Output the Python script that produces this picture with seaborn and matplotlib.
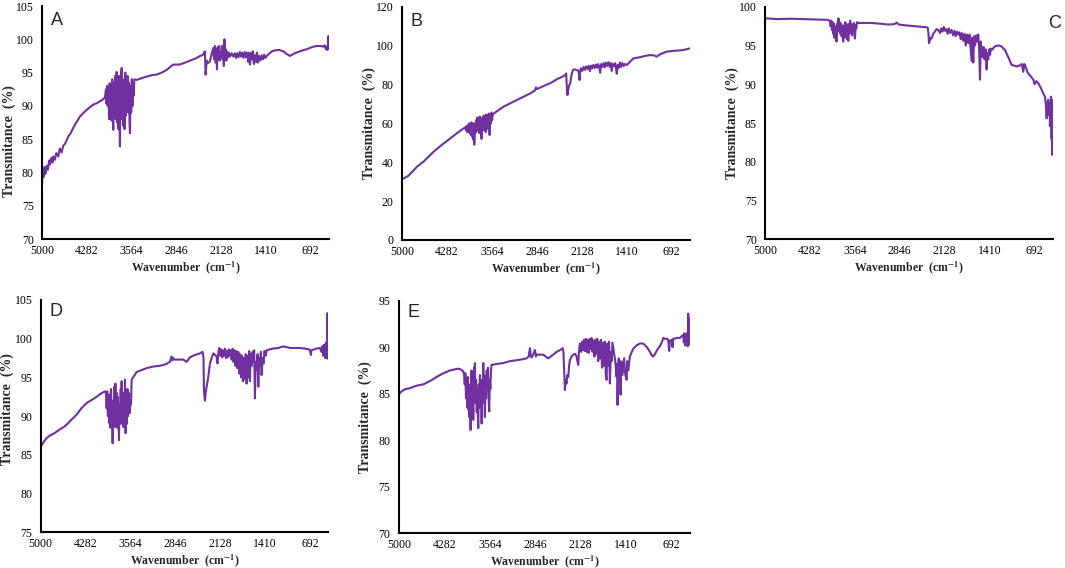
import numpy as np
import pandas as pd
import matplotlib
matplotlib.use("Agg")
import matplotlib.pyplot as plt
import seaborn as sns

# FTIR spectra (wavenumber, transmitance %)
wn_a = [5000, 4989, 4975, 4960, 4945, 4925, 4905, 4885, 4872, 4850, 4830, 4818, 4795, 4770, 4738, 4715, 4685, 4660,
        4631, 4605, 4578, 4540, 4498, 4450, 4391, 4340, 4284, 4230, 4177, 4120, 4070, 4030, 3990,
        3974, 3965, 3955, 3945, 3935, 3925, 3915, 3905, 3895, 3885, 3875, 3865, 3857, 3848, 3838, 3828, 3818, 3810,
        3803, 3795, 3785, 3775, 3765, 3757, 3750, 3742, 3735, 3728, 3722, 3715, 3705, 3695, 3685, 3675, 3665, 3655,
        3645, 3635, 3625, 3615, 3605, 3597, 3589, 3580, 3570, 3560, 3550, 3540, 3530, 3520,
        3483, 3420, 3322, 3240, 3162, 3080, 3002, 2950, 2895, 2800, 2735, 2650, 2574, 2520, 2467, 2430, 2403, 2390,
        2385, 2377, 2370, 2360, 2350, 2330, 2307, 2280, 2254,
        2240, 2228, 2215, 2205, 2195, 2185, 2172, 2160, 2150, 2138, 2125, 2115, 2105, 2095, 2085, 2075, 2065, 2055,
        2045, 2035, 2020, 2005, 1987,
        1960, 1933, 1910, 1890, 1870, 1850, 1830, 1810, 1790, 1770, 1750, 1730, 1710, 1695, 1680, 1666, 1650, 1635,
        1620, 1605, 1590, 1570, 1555, 1540, 1520, 1500, 1480, 1460, 1440, 1420, 1399,
        1340, 1292, 1200, 1132, 1080, 1025, 950, 864, 800, 758, 680, 597, 540, 490, 470, 450, 437, 425, 418, 412,
        408, 404, 400]
t_a = [78.2, 80.2, 79.3, 80.8, 79.8, 81.0, 80.4, 81.8, 81.2, 82.2, 81.5, 82.4, 81.9, 82.9, 82.4, 83.6, 83.0, 84.0,
       84.3, 84.8, 85.4, 85.9, 86.7, 87.5, 88.4, 88.9, 89.4, 89.8, 90.2, 90.4, 90.7, 90.9, 91.3,
       92.5, 90.3, 93.0, 90.0, 92.0, 88.0, 93.4, 89.5, 92.5, 87.8, 94.0, 88.5, 86.4, 93.5, 89.0, 94.5, 88.0, 92.0,
       95.1, 87.5, 93.0, 86.5, 94.5, 87.5, 83.9, 93.0, 89.0, 95.0, 95.7, 88.0, 94.0, 87.0, 93.5, 86.5, 95.0, 88.5,
       93.0, 90.0, 94.5, 89.0, 93.5, 87.5, 85.9, 93.0, 89.0, 94.0, 90.0, 93.5, 91.5, 94.0,
       93.9, 94.1, 94.4, 94.6, 94.7, 95.0, 95.4, 95.8, 96.2, 96.2, 96.4, 96.7, 97.0, 97.2, 97.5, 97.6, 97.9, 98.2,
       97.2, 94.7, 95.5, 96.8, 96.4, 96.5, 96.7, 97.8, 98.7,
       97.0, 99.0, 96.5, 98.5, 95.5, 98.8, 97.0, 99.0, 96.8, 98.0, 97.2, 99.0, 97.0, 98.3, 96.0, 100.0, 97.2, 98.5,
       96.8, 98.2, 97.3, 98.0, 97.4,
       97.9, 97.4, 97.9, 97.2, 97.9, 97.3, 98.1, 97.4, 98.0, 97.2, 98.1, 97.3, 98.0, 96.6, 98.0, 96.2, 97.9, 97.0,
       98.2, 96.3, 97.6, 96.6, 98.0, 96.5, 97.5, 96.8, 97.6, 97.0, 97.7, 97.2, 97.5,
       98.0, 98.3, 98.4, 98.2, 97.8, 97.5, 97.9, 98.2, 98.4, 98.5, 98.8, 99.0, 99.0, 98.9, 99.1, 98.5, 98.8, 98.4,
       99.2, 98.6, 100.5, 98.8, 99.0]

wn_b = [5000, 4984, 4900, 4761, 4650, 4495, 4380, 4229, 4120, 4016, 3990,
        3980, 3970, 3960, 3950, 3940, 3930, 3920, 3910, 3900, 3890, 3880, 3870, 3860, 3852, 3846, 3838, 3828, 3818,
        3808, 3798, 3788, 3778, 3768, 3758, 3748, 3738, 3730, 3724, 3714, 3704, 3694, 3684, 3674, 3664, 3654, 3644,
        3634, 3624, 3614, 3607, 3601, 3592, 3582, 3572, 3562, 3552, 3538,
        3378, 3165, 2953, 2880, 2860, 2846, 2800, 2700, 2633, 2520, 2421, 2390, 2378, 2370, 2362, 2357, 2345, 2330,
        2314, 2295, 2272, 2240, 2208, 2180, 2170, 2165, 2158, 2144,
        2120, 2100, 2080, 2060, 2040, 2020, 2000, 1985, 1965, 1945, 1925, 1905, 1885, 1865, 1845, 1836, 1820, 1800,
        1780, 1760, 1740, 1720, 1700, 1680, 1660, 1650, 1635, 1615, 1595, 1580, 1570, 1555, 1540, 1520, 1500, 1480,
        1460, 1440, 1410,
        1304, 1200, 1100, 1038, 980, 932, 880, 772, 650, 506, 450, 400]
t_b = [31.0, 31.5, 33.0, 37.7, 40.5, 45.4, 48.5, 52.3, 55.0, 57.4, 58.0,
       56.5, 58.5, 55.5, 59.0, 56.0, 60.0, 55.0, 59.5, 54.0, 60.5, 53.0, 58.0, 51.5, 60.0, 49.0, 58.0, 55.0, 61.5,
       56.0, 63.0, 58.0, 62.0, 55.0, 63.5, 57.0, 60.5, 52.0, 58.5, 63.0, 56.5, 64.0, 58.0, 62.0, 55.5, 64.5, 59.0,
       63.0, 57.0, 65.0, 58.5, 54.0, 62.5, 60.0, 65.5, 61.5, 64.0, 65.0,
       68.6, 72.0, 75.4, 76.8, 78.5, 77.6, 78.3, 79.8, 80.6, 82.8, 84.3, 85.0, 85.7, 80.0, 76.0, 74.6, 77.5, 79.5,
       80.6, 84.5, 87.4, 87.8, 87.4, 87.0, 84.0, 82.3, 85.5, 88.3,
       87.0, 89.0, 87.5, 89.3, 88.0, 89.5, 86.8, 89.7, 88.2, 90.0, 88.5, 90.3, 88.6, 90.5, 88.2, 86.0, 90.5, 89.0,
       91.0, 88.8, 91.3, 89.5, 91.5, 89.0, 91.0, 87.0, 90.5, 89.5, 91.0, 88.0, 85.5, 90.0, 88.5, 91.3, 89.0, 91.0,
       89.5, 90.5, 90.0,
       93.4, 94.0, 94.8, 95.1, 95.0, 94.3, 95.5, 96.9, 97.3, 97.7, 98.2, 98.6]

wn_c = [5000, 4989, 4800, 4600, 4400, 4200, 3987, 3961,
        3950, 3940, 3930, 3920, 3910, 3900, 3890, 3880, 3870, 3860, 3854, 3845, 3835, 3825, 3815, 3805, 3795, 3785,
        3775, 3765, 3755, 3747, 3738, 3728, 3718, 3708, 3698, 3688, 3678, 3668, 3658, 3648, 3638, 3628, 3618, 3608,
        3598, 3588, 3578, 3568, 3561, 3550, 3540, 3530, 3508,
        3400, 3294, 3150, 3028, 2930, 2895, 2860, 2761, 2620, 2495, 2420, 2399, 2385, 2378, 2365, 2350, 2336, 2310,
        2282, 2260, 2228,
        2200, 2180, 2160, 2140, 2122, 2100, 2080, 2060, 2040, 2015, 1990, 1970, 1950, 1930, 1909, 1890, 1870, 1850,
        1830, 1810, 1790, 1770, 1750, 1730, 1710, 1695, 1685, 1669, 1655, 1640, 1620, 1605, 1589, 1575, 1562, 1550,
        1536, 1520, 1505, 1490, 1482, 1470, 1456, 1445, 1430, 1415, 1400, 1390, 1376,
        1322, 1269, 1220, 1162, 1110, 1056, 976, 930, 896, 880, 869, 855, 843, 800, 750, 709, 690, 660, 629, 600,
        576, 550, 523, 510, 496, 485, 470, 460, 450, 443, 435, 427, 422, 416, 412, 408, 406, 403, 400]
t_c = [98.4, 98.5, 98.4, 98.45, 98.4, 98.35, 98.3, 98.1,
       97.5, 98.2, 97.0, 98.0, 96.5, 97.8, 96.0, 97.5, 96.5, 95.6, 95.5, 97.8, 96.8, 98.5, 97.0, 98.0, 96.5, 97.8,
       96.2, 97.6, 95.7, 95.5, 97.5, 96.0, 98.0, 96.5, 97.8, 95.8, 97.3, 95.6, 97.8, 96.5, 98.2, 96.8, 97.8, 96.3,
       97.6, 96.8, 97.9, 96.2, 95.9, 97.6, 97.2, 98.0, 97.9,
       97.9, 97.9, 97.8, 97.7, 97.75, 97.95, 97.7, 97.6, 97.5, 97.4, 97.35, 97.3, 96.5, 95.3, 95.6, 96.0, 95.9, 96.5,
       96.8, 97.1, 97.0,
       96.6, 97.2, 96.8, 97.4, 96.9, 97.1, 96.5, 97.2, 96.6, 97.0, 96.3, 96.9, 96.2, 96.8, 96.4, 96.7, 95.8, 96.6,
       95.6, 96.5, 95.0, 96.4, 95.3, 96.4, 94.5, 93.0, 96.0, 92.8, 96.2, 95.0, 96.3, 95.5, 96.4, 94.5, 90.6, 95.5,
       94.4, 93.5, 94.8, 93.2, 93.4, 94.5, 91.9, 94.0, 93.2, 94.5, 93.8, 94.6, 94.4,
       94.9, 95.0, 94.9, 94.4, 93.5, 92.5, 92.3, 92.4, 92.6, 92.0, 91.6, 92.6, 92.5, 91.5, 91.0, 90.6, 90.0, 90.4,
       90.1, 89.7, 89.3, 88.8, 88.4, 87.5, 85.6, 87.5, 88.0, 86.0, 87.5, 84.6, 87.0, 88.4, 85.0, 82.9, 86.5, 88.0,
       80.9, 84.0, 82.0]

wn_d = [5000, 4989, 4940, 4900, 4851, 4780, 4691, 4630, 4584, 4500, 4424, 4350, 4264, 4180, 4105, 4040, 3971,
        3955, 3945, 3935, 3925, 3915, 3902, 3895, 3885, 3875, 3865, 3857, 3849, 3840, 3830, 3820, 3811, 3805, 3795,
        3785, 3775, 3765, 3757, 3747, 3740, 3730, 3720, 3712, 3705, 3695, 3685, 3678, 3670, 3660, 3651, 3645, 3641,
        3632, 3622, 3612, 3602, 3592, 3582, 3572, 3565, 3555, 3545,
        3465, 3400, 3305, 3200, 3092, 3000, 2932, 2905, 2895, 2879, 2860, 2800, 2719, 2665, 2612, 2530, 2452, 2410,
        2395, 2388, 2380, 2372, 2360, 2346, 2320, 2292, 2265, 2239, 2210, 2186, 2178, 2170, 2160, 2143,
        2125, 2110, 2095, 2080, 2065, 2050, 2035, 2020, 2005, 1990, 1975, 1960, 1945, 1930, 1915, 1900, 1885, 1870,
        1855, 1840, 1825, 1810, 1795, 1780, 1765, 1750, 1735, 1720, 1706, 1695, 1680, 1665, 1653, 1640, 1625, 1610,
        1595, 1585, 1573, 1560, 1545, 1530, 1519, 1505, 1490, 1478, 1466, 1450, 1435, 1420, 1400, 1386,
        1300, 1200, 1120, 1060, 1013, 950, 853, 760, 700, 693, 685, 677, 668, 600, 533, 510, 495, 480, 470, 460,
        453, 445, 437, 428, 420, 414, 411, 407, 403, 400]
t_d = [85.9, 86.2, 86.8, 87.2, 87.5, 87.8, 88.3, 88.6, 88.9, 89.6, 90.2, 91.0, 91.7, 92.1, 92.5, 92.9, 93.2,
       93.0, 91.0, 93.2, 90.0, 92.5, 89.1, 92.8, 88.5, 93.5, 90.5, 91.5, 86.5, 92.0, 89.5, 93.8, 88.6, 94.2, 90.0,
       93.0, 88.5, 92.5, 89.5, 86.9, 91.5, 89.0, 93.5, 90.0, 94.5, 89.0, 93.0, 88.6, 92.5, 89.5, 94.7, 89.5, 87.8,
       92.5, 89.0, 93.5, 90.0, 93.0, 90.5, 90.4, 92.0, 91.5, 94.7,
       95.7, 95.9, 96.2, 96.4, 96.5, 96.7, 97.0, 97.7, 97.2, 97.5, 97.3, 97.3, 97.3, 97.0, 97.6, 97.9, 98.1, 98.3,
       97.5, 93.4, 92.5, 92.0, 93.0, 93.8, 95.0, 96.8, 97.5, 98.1, 97.9, 97.7, 97.0, 96.8, 98.0, 98.8,
       97.8, 98.6, 97.6, 98.5, 97.8, 98.7, 97.5, 98.4, 97.6, 98.6, 97.8, 98.5, 97.3, 98.7, 97.0, 98.5, 96.5, 98.4,
       96.2, 98.3, 95.5, 98.0, 95.0, 97.8, 94.5, 97.5, 94.8, 98.0, 94.2, 97.8, 95.0, 98.4, 94.5, 98.0, 96.5, 98.3,
       97.0, 98.5, 92.3, 97.0, 96.0, 98.0, 93.8, 97.5, 96.5, 98.3, 95.3, 97.5, 96.8, 98.4, 97.8, 98.5,
       98.7, 98.8, 99.0, 98.9, 98.8, 98.8, 98.8, 98.7, 98.6, 98.5, 98.2, 97.9, 98.5, 98.7, 98.8, 98.3, 99.0, 97.8,
       99.2, 98.0, 99.0, 97.5, 99.5, 97.5, 99.2, 98.0, 103.3, 98.2, 97.4, 99.0]

wn_e = [5000, 4995, 4950, 4900, 4826, 4750, 4700, 4615, 4500, 4405, 4300, 4194, 4130, 4062, 4020, 3983,
        3970, 3960, 3950, 3940, 3930, 3920, 3912, 3904, 3896, 3888, 3880, 3873, 3867, 3860, 3852, 3845, 3835, 3825,
        3818, 3810, 3805, 3799, 3790, 3780, 3770, 3760, 3752, 3746, 3738, 3730, 3720, 3710, 3700, 3693, 3685, 3675,
        3667, 3660, 3652, 3641, 3632, 3622, 3612, 3602, 3592, 3580, 3572, 3565, 3555, 3545, 3535,
        3450, 3351, 3250, 3140, 3050, 2982, 2950, 2929, 2915, 2903, 2880, 2850, 2835, 2824, 2719, 2680, 2640, 2580,
        2508, 2450, 2413, 2400, 2392, 2385, 2376, 2365, 2350, 2340, 2323, 2310, 2297, 2270, 2244, 2215, 2192, 2178,
        2165, 2155, 2139,
        2120, 2105, 2090, 2075, 2060, 2045, 2030, 2015, 2000, 1985, 1970, 1955, 1940, 1925, 1910, 1895, 1880, 1865,
        1850, 1835, 1820, 1805, 1790, 1775, 1760, 1745, 1730, 1717, 1705, 1690, 1678, 1665, 1650, 1635, 1625, 1612,
        1580, 1559, 1550, 1544, 1535, 1525, 1517, 1505, 1496, 1485, 1470, 1454, 1440, 1425, 1401, 1390, 1375, 1349,
        1300, 1243, 1190, 1138, 1080, 1032, 1000, 980, 950, 910, 874, 840, 822, 790, 760, 743, 735, 727, 718, 690,
        674, 664, 600, 558, 530, 506, 495, 485, 475, 465, 455, 445, 435, 426, 420, 414, 411, 405, 400]
t_e = [84.9, 85.0, 85.3, 85.5, 85.6, 85.8, 85.9, 86.0, 86.4, 86.8, 87.2, 87.5, 87.6, 87.7, 87.6, 87.4,
       87.0, 86.0, 87.2, 84.5, 86.5, 83.5, 86.8, 83.3, 85.5, 82.5, 86.0, 83.5, 81.1, 85.0, 87.5, 84.0, 86.0, 82.2,
       85.5, 87.8, 86.0, 88.3, 84.0, 86.5, 83.0, 85.5, 82.5, 81.3, 86.0, 83.5, 87.0, 84.0, 86.5, 81.8, 86.0, 84.0,
       88.3, 85.0, 87.0, 82.5, 86.5, 84.5, 87.5, 85.5, 87.8, 84.0, 83.1, 86.5, 85.5, 87.5, 88.1,
       88.2, 88.3, 88.5, 88.6, 88.7, 88.8, 89.0, 89.9, 89.0, 88.9, 89.2, 89.7, 89.0, 89.2, 89.2, 89.0, 88.8, 89.1,
       89.5, 89.7, 89.9, 89.5, 88.3, 87.0, 85.4, 86.5, 86.1, 87.0, 86.8, 88.0, 88.6, 89.0, 89.2, 89.3, 89.0, 88.5,
       88.1, 89.5, 90.4,
       89.5, 90.6, 89.7, 90.8, 89.6, 90.9, 89.5, 90.8, 89.4, 90.9, 89.8, 91.0, 89.5, 90.7, 89.0, 90.8, 89.3, 90.9,
       88.5, 90.6, 88.8, 90.8, 87.8, 90.5, 88.0, 90.6, 87.0, 86.5, 90.4, 88.0, 90.6, 86.1, 89.5, 88.5, 90.5, 89.9,
       88.5, 86.8, 88.2, 83.8, 87.5, 88.8, 86.5, 88.0, 84.9, 88.5, 87.0, 87.7, 88.8, 87.2, 86.5, 88.5, 87.5, 89.0,
       89.8, 90.2, 90.4, 90.4, 90.0, 89.5, 89.1, 89.0, 89.3, 89.8, 90.1, 90.6, 91.0, 90.9, 90.9, 90.8, 90.2, 89.6,
       90.6, 90.8, 90.0, 90.9, 91.0, 91.0, 91.2, 91.3, 90.5, 91.5, 90.2, 91.4, 90.3, 91.5, 90.1, 93.6, 90.5, 93.0,
       91.0, 90.3, 91.2]

x_ticks = [5000, 4282, 3564, 2846, 2128, 1410, 692]

# letter, x, y, y-limits, y-step, axes rect, letter spot, y-label height
panels = [
    ("A", wn_a, t_a, (70, 105), 5, [0.0394, 0.5792, 0.2695, 0.4102], (0.03, 0.975), 0.42),
    ("B", wn_b, t_b, (0, 120), 20, [0.3775, 0.5775, 0.2704, 0.4107], (0.03, 0.975), 0.50),
    ("C", wn_c, t_c, (70, 100), 5, [0.7183, 0.5787, 0.2701, 0.4095], (0.985, 0.965), 0.50),
    ("D", wn_d, t_d, (75, 105), 5, [0.0382, 0.0629, 0.2700, 0.4090], (0.03, 0.985), 0.53),
    ("E", wn_e, t_e, (70, 95), 5, [0.3746, 0.0611, 0.2732, 0.4095], (0.03, 0.985), 0.50),
]

sns.set_style("white")
plt.rcParams["font.family"] = ["Liberation Serif", "DejaVu Serif"]
plt.rcParams["mathtext.fontset"] = "stix"

fig = plt.figure(figsize=(10.65, 5.68), dpi=100)
purple = "#7030A0"

for letter, wn, tr, ylim, ystep, pos, lpos, ylab_y in panels:
    ax = fig.add_axes(pos)
    df = pd.DataFrame({"wavenumber": wn, "transmitance": tr})
    sns.lineplot(data=df, x="wavenumber", y="transmitance", ax=ax, color=purple,
                 linewidth=1.5, sort=False, estimator=None)
    ax.set_xlim(5000, 400)
    ax.set_ylim(*ylim)
    ax.set_xticks(x_ticks)
    ax.set_xticklabels([str(v) for v in x_ticks])
    ax.set_yticks(np.arange(ylim[0], ylim[1] + 0.1, ystep))
    ax.tick_params(axis="y", length=3, width=1, direction="out", labelsize=8.5, pad=3, colors="black")
    ax.tick_params(axis="x", length=0, labelsize=8.5, pad=4, colors="black")
    for s in ["top", "right"]:
        ax.spines[s].set_visible(False)
    for s in ["left", "bottom"]:
        ax.spines[s].set_color("black")
        ax.spines[s].set_linewidth(1.5)
    ax.set_xlabel("Wavenumber  (cm$^{\\mathbf{-1}}$)", fontsize=8.5, fontweight="bold")
    ax.set_ylabel("Transmitance  (%)", fontsize=10, fontweight="bold")
    ax.xaxis.set_label_coords(0.5, -0.085)
    ax.yaxis.set_label_coords(-0.092, ylab_y)
    ax.text(lpos[0], lpos[1], letter, transform=ax.transAxes, fontsize=13, ha="left", va="top",
            family=["Liberation Sans", "DejaVu Sans"])

fig.savefig("out.png", dpi=100)
